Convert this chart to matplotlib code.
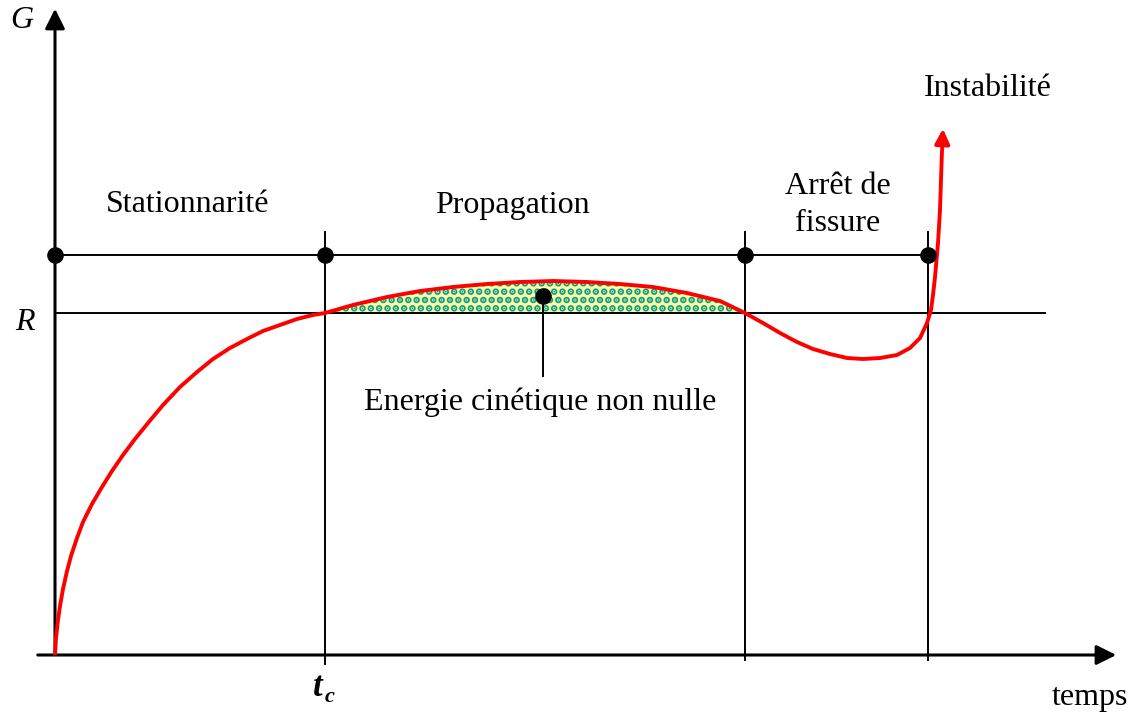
import matplotlib
matplotlib.use("Agg")
import matplotlib.pyplot as plt
import numpy as np

plt.rcParams['font.family'] = ['Liberation Serif', 'DejaVu Serif']
plt.rcParams['hatch.color'] = '#0a9a9a'
plt.rcParams['hatch.linewidth'] = 3.4

# picture coordinates (pixels, y downwards)
level_top = 255
level_R = 313
t_marks = [325, 745, 928]
dot_x = [55, 325, 745, 928]

# G(t) curve
curve_x = [55, 56, 58, 60, 63, 67, 71, 77, 83, 92, 102, 112, 123, 135, 148, 163, 180, 197,
           213, 230, 247, 263, 280, 297, 313, 325,
           353, 387, 420, 453, 487, 520, 553, 587, 620, 653, 687, 720, 745,
           763, 780, 797, 813, 830, 847, 863, 880, 897, 910, 920, 927, 931,
           933, 935, 938, 940, 942]
curve_y = [655, 638, 620, 606, 589, 571, 556, 538, 522, 504, 487, 471, 455, 439, 423, 405, 387, 372,
           359, 348, 339, 331, 325, 319, 315, 313,
           305, 297, 291, 287, 284, 282, 281, 282, 284, 287, 293, 301, 313,
           323, 333, 342, 349, 354, 358, 359, 358, 355, 348, 338, 323, 310,
           295, 277, 243, 210, 150]

fig = plt.figure(figsize=(11.31, 7.15), dpi=100)
ax = fig.add_axes([0, 0, 1, 1])
ax.set_xlim(0, 1131)
ax.set_ylim(715, 0)
ax.axis('off')

cx = np.array(curve_x)
cy = np.array(curve_y)

# kinetic energy area
mask = (cx >= 325) & (cx <= 745)
ax.fill_between(cx[mask], cy[mask], level_R, facecolor='#ffff99', edgecolor='#0a9a9a',
                hatch='..', linewidth=0, zorder=1)

# axes with arrows
ax.annotate('', xy=(55, 6), xytext=(55, 657),
            arrowprops=dict(arrowstyle='-|>', color='black', lw=2.2, mutation_scale=30))
ax.annotate('', xy=(1119, 655), xytext=(35, 655),
            arrowprops=dict(arrowstyle='-|>', color='black', lw=2.2, mutation_scale=30))

# reference levels
ax.plot([55, 928], [level_top, level_top], color='black', lw=1.4, zorder=2)
ax.plot([55, 1045], [level_R, level_R], color='black', lw=1.4, zorder=2)
for xm in t_marks:
    ax.plot([xm, xm], [232, 664 if xm == 325 else 660], color='black', lw=1.4, zorder=2)
ax.scatter(dot_x, [level_top] * len(dot_x), s=120, color='black', zorder=4)

# curve
ax.plot(cx, cy, color='#ff0000', lw=2.8, zorder=3, solid_capstyle='butt', solid_joinstyle='round')
ax.annotate('', xy=(943, 126), xytext=(942, 152),
            arrowprops=dict(arrowstyle='-|>', color='#ff0000', lw=2.8, mutation_scale=22))

# energy pointer
ax.plot([543, 543], [296, 376], color='black', lw=1.4, zorder=4)
ax.scatter([543], [296], s=120, color='black', zorder=5)

fs = 23
ax.text(188, 205, 'Stationnarité', fontsize=fs, ha='center', va='center')
ax.text(512, 205, 'Propagation', fontsize=fs, ha='center', va='center')
ax.text(838, 205, 'Arrêt de\nfissure', fontsize=fs, ha='center', va='center', linespacing=1.35)
ax.text(988, 88, 'Instabilité', fontsize=fs, ha='center', va='center')
ax.text(540, 402, 'Energie cinétique non nulle', fontsize=fs, ha='center', va='center')
ax.text(1090, 697, 'temps', fontsize=fs, ha='center', va='center')
ax.text(22, 20, 'G', fontsize=fs, ha='center', va='center', style='italic')
ax.text(25, 323, 'R', fontsize=fs, ha='center', va='center', style='italic')
ax.text(318, 688, 't', fontsize=fs + 2, ha='center', va='center', style='italic', weight='bold')
ax.text(330, 697, 'c', fontsize=fs - 7, ha='center', va='center', style='italic', weight='bold')

fig.savefig('out.png', dpi=100)
